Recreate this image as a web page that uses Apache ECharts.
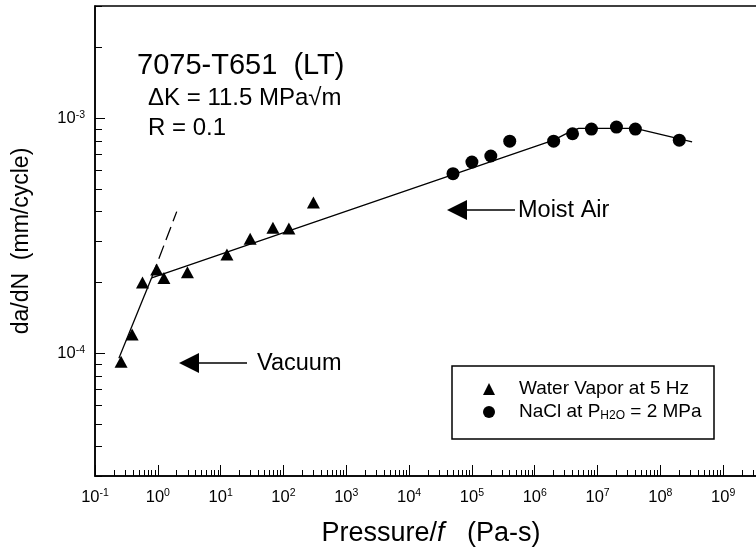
<!DOCTYPE html>
<html>
<head>
<meta charset="utf-8">
<script src="https://cdn.jsdelivr.net/npm/echarts@6/dist/echarts.min.js"></script>
<style>
  html, body { margin: 0; padding: 0; background: #fff; }
  #chart { width: 756px; height: 550px; }
</style>
</head>
<body>
<div id="chart"></div>
<script>
const FONT = '"Liberation Sans", Arial, Helvetica, sans-serif';

// Water vapor at 5 Hz (triangles): [Pressure/f (Pa-s), da/dN (mm/cycle)]
const vaporData = [
  [0.26, 9.2e-5], [0.39, 1.2e-4], [0.57, 2.0e-4], [0.96, 2.27e-4], [1.25, 2.09e-4],
  [2.96, 2.21e-4], [12.6, 2.63e-4], [29.5, 3.07e-4], [68, 3.42e-4], [122, 3.39e-4],
  [300, 4.37e-4],
];

// NaCl at P_H2O = 2 MPa (circles)
const naclData = [
  [5e4, 5.8e-4], [1e5, 6.5e-4], [2e5, 6.9e-4], [4e5, 7.98e-4], [2e6, 7.98e-4],
  [4e6, 8.58e-4], [8e6, 8.98e-4], [2e7, 9.16e-4], [4e7, 8.98e-4], [2e8, 8.06e-4],
];

// hand drawn trend lines
const vacuumFit = [[0.24, 9.5e-5], [0.8, 2.1e-4]];
const vacuumExtension = [[0.8, 2.1e-4], [2.0, 4.0e-4]];
const moistAirFit = [
  [0.8, 2.09e-4], [2e6, 8.06e-4], [3.6e6, 8.74e-4], [5e6, 9.04e-4],
  [4e7, 9.04e-4], [3.2e8, 7.93e-4],
];

const xMajorTicks = [0.1, 1, 10, 1e2, 1e3, 1e4, 1e5, 1e6, 1e7, 1e8, 1e9, 1e10];
const yMajorTicks = [1e-4, 1e-3];

// 2..9 x 10^e for every decade between lo and hi
function minorTicks(lo, hi) {
  const out = [];
  for (let e = lo; e <= hi; e++) {
    for (let m = 2; m <= 9; m++) out.push(m * Math.pow(10, e));
  }
  return out;
}
const xMinorTicks = minorTicks(-1, 9);
const yMinorTicks = minorTicks(-5, -3);

function powerLabel(value) {
  return '10{sup|' + Math.round(Math.log10(value)) + '}';
}

const labelStyle = {
  color: '#000',
  fontFamily: FONT,
  fontSize: 16.5,
  lineHeight: 18,
  formatter: powerLabel,
  rich: {
    sup: { fontFamily: FONT, fontSize: 10.5, color: '#000', verticalAlign: 'top', lineHeight: 12 },
  },
};

const axisLineStyle = { show: true, onZero: false, lineStyle: { color: '#000', width: 1.5 } };

function logAxis(min, max, position, extra) {
  return Object.assign({
    type: 'log',
    logBase: 10,
    min,
    max,
    position,
    gridIndex: 0,
    splitLine: { show: false },
    minorTick: { show: false },
  }, extra);
}

function arrow(tipX, y, baseX, endX) {
  return [
    { type: 'polygon', shape: { points: [[tipX, y], [baseX, y - 10], [baseX, y + 10]] }, style: { fill: '#000' } },
    { type: 'line', shape: { x1: baseX, y1: y, x2: endX, y2: y }, style: { stroke: '#000', lineWidth: 1.5 } },
  ];
}

function note(text, x, y, size) {
  return {
    type: 'text', x, y,
    style: { text, fill: '#000', fontFamily: FONT, fontSize: size, verticalAlign: 'middle' },
  };
}

const chart = echarts.init(document.getElementById('chart'), null, { renderer: 'canvas' });

chart.setOption({
  animation: false,
  backgroundColor: '#fff',
  textStyle: { fontFamily: FONT },
  grid: {
    left: 95, top: 6, width: 691, height: 470,
    show: true, borderColor: '#000', borderWidth: 1.5,
    outerBoundsMode: 'none', containLabel: false,
  },
  xAxis: [
    logAxis(0.1, 1e10, 'bottom', {
      axisLine: axisLineStyle,
      axisTick: { inside: true, length: 11, customValues: xMajorTicks, lineStyle: { color: '#000', width: 1 } },
      axisLabel: Object.assign({ customValues: xMajorTicks, margin: 12 }, labelStyle),
      name: 'Pressure/{i|f}   (Pa-s)',
      nameLocation: 'middle',
      nameGap: 44,
      nameTextStyle: {
        color: '#000', fontFamily: FONT, fontSize: 27, padding: [0, 19, 0, 0],
        rich: { i: { fontFamily: FONT, fontSize: 27, fontStyle: 'italic', color: '#000' } },
      },
    }),
    logAxis(0.1, 1e10, 'bottom', {
      axisLine: { show: false },
      axisTick: { inside: true, length: 6, customValues: xMinorTicks, lineStyle: { color: '#000', width: 1 } },
      axisLabel: { show: false },
    }),
  ],
  yAxis: [
    logAxis(3e-5, 3e-3, 'left', {
      axisLine: axisLineStyle,
      axisTick: { inside: true, length: 10, customValues: yMajorTicks, lineStyle: { color: '#000', width: 1 } },
      axisLabel: Object.assign({ customValues: yMajorTicks, margin: 10 }, labelStyle),
      name: 'da/dN  (mm/cycle)',
      nameLocation: 'middle',
      nameGap: 62,
      nameTextStyle: { color: '#000', fontFamily: FONT, fontSize: 23 },
    }),
    logAxis(3e-5, 3e-3, 'left', {
      axisLine: { show: false },
      axisTick: { inside: true, length: 7, customValues: yMinorTicks, lineStyle: { color: '#000', width: 1 } },
      axisLabel: { show: false },
    }),
  ],
  legend: {
    orient: 'vertical',
    left: 483,
    top: 379,
    padding: 0,
    itemWidth: 12,
    itemHeight: 12,
    itemGap: 3,
    selectedMode: false,
    data: [
      { name: 'Water Vapor at 5 Hz', icon: 'triangle' },
      { name: 'NaCl', icon: 'circle' },
    ],
    formatter: (name) => (name === 'NaCl' ? 'NaCl at P{sub|H2O} = 2 MPa' : name),
    textStyle: {
      color: '#000', fontFamily: FONT, fontSize: 19, lineHeight: 20, padding: [0, 0, 0, 19],
      rich: { sub: { fontFamily: FONT, fontSize: 12, color: '#000', verticalAlign: 'bottom', lineHeight: 11 } },
    },
  },
  series: [
    {
      name: 'Vacuum fit', type: 'line', data: vacuumFit, symbol: 'none', silent: true,
      lineStyle: { color: '#000', width: 1.3 }, z: 1,
    },
    {
      name: 'Vacuum extension', type: 'line', data: vacuumExtension, symbol: 'none', silent: true,
      lineStyle: { color: '#000', width: 1.3, type: [14, 6] }, z: 1,
    },
    {
      name: 'Moist air fit', type: 'line', data: moistAirFit, symbol: 'none', silent: true,
      lineStyle: { color: '#000', width: 1.3 }, z: 1,
    },
    {
      name: 'Water Vapor at 5 Hz', type: 'scatter', data: vaporData,
      symbol: 'triangle', symbolSize: [13, 12], itemStyle: { color: '#000', opacity: 1 }, z: 3,
    },
    {
      name: 'NaCl', type: 'scatter', data: naclData,
      symbol: 'circle', symbolSize: 13, itemStyle: { color: '#000', opacity: 1 }, z: 3,
    },
  ],
  graphic: [
    note('7075-T651  (LT)', 137, 66, 29),
    note('\u0394K = 11.5 MPa\u221Am', 148, 98, 24),
    note('R = 0.1', 148, 128, 24),
    ...arrow(179, 363, 199, 247),
    note('Vacuum', 257, 364, 23.5),
    ...arrow(447, 210, 467, 515),
    note('Moist Air', 518, 211, 23.5),
    {
      type: 'rect', shape: { x: 452, y: 366, width: 262, height: 73 },
      style: { fill: 'none', stroke: '#000', lineWidth: 1.5 },
    },
  ],
});
</script>
</body>
</html>
